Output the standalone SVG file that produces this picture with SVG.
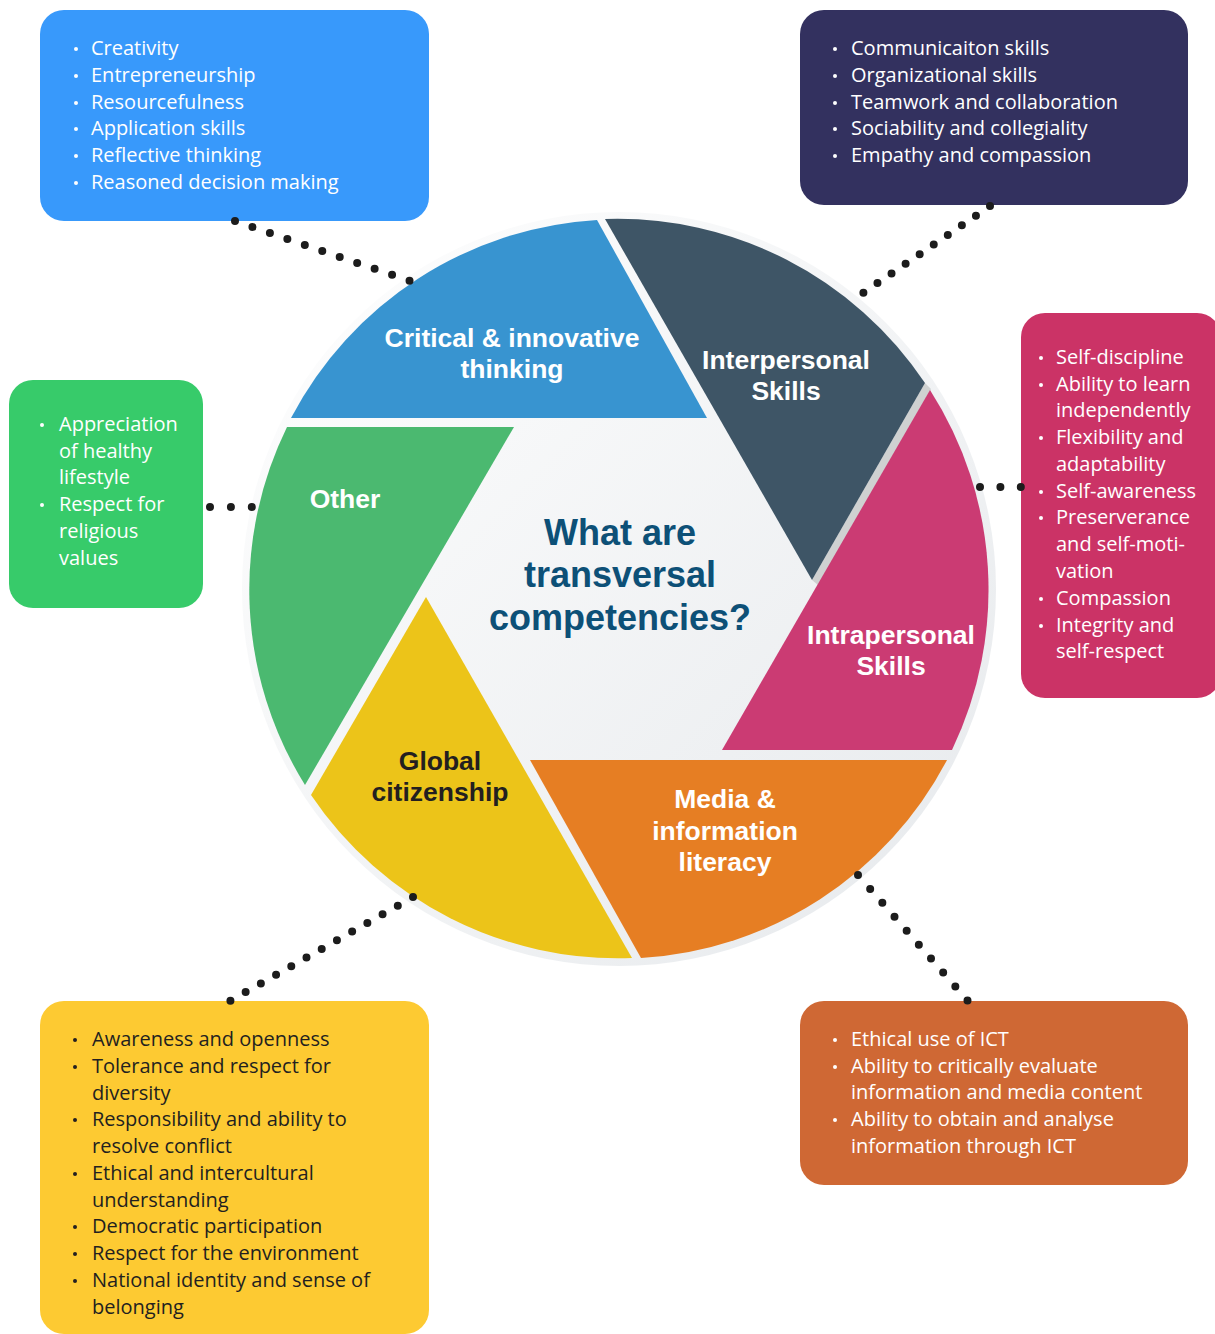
<svg xmlns="http://www.w3.org/2000/svg" width="1215" height="1334" viewBox="0 0 1215 1334">
<defs>
<linearGradient id="bg" x1="0" y1="0" x2="1" y2="1">
<stop offset="0" stop-color="#ffffff"/>
<stop offset="1" stop-color="#e6e9ec"/>
</linearGradient>
<style>
.box text{font-family:"Open Sans","Noto Sans",sans-serif;font-size:20px;fill:#ffffff}
.box circle{fill:#ffffff}
.dark text{fill:#231f20}
.dark circle{fill:#231f20}
.lbl{font-family:"Liberation Sans","Arial",sans-serif;font-weight:700;font-size:26.5px;fill:#ffffff;text-anchor:middle}
.lbl.ink{fill:#231f20}
.title{font-family:"Liberation Sans","Arial",sans-serif;font-weight:700;font-size:36px;fill:#0d5077;text-anchor:middle}
.dots{fill:none;stroke:#1c1c1c;stroke-width:8;stroke-linecap:round}
</style>
</defs>
<rect width="1215" height="1334" fill="#ffffff"/>

<g id="wheel">
<circle cx="619" cy="589" r="377" fill="url(#bg)"/>
<polygon points="812,580 925,383 931,389 818,585" fill="#cfd1d1"/>
<g id="blade-critical">
<path d="M707,418 L597,220 A370,370 0 0 0 291,418 Z" fill="#3894d0"/>
<text class="lbl" x="512" y="347">Critical &amp; innovative</text>
<text class="lbl" x="512" y="378">thinking</text>
</g>
<g id="blade-interpersonal">
<path d="M812,580 L925,383 A370,370 0 0 0 605,219 Z" fill="#3e5566"/>
<text class="lbl" x="786" y="369">Interpersonal</text>
<text class="lbl" x="786" y="400">Skills</text>
</g>
<g id="blade-intrapersonal">
<path d="M722,750 L952,750 A370,370 0 0 0 930,390 Z" fill="#cb3b73"/>
<text class="lbl" x="891" y="644">Intrapersonal</text>
<text class="lbl" x="891" y="675">Skills</text>
</g>
<g id="blade-media">
<path d="M530,760 L641,958 A370,370 0 0 0 947,760 Z" fill="#e67e23"/>
<text class="lbl" x="725" y="808">Media &amp;</text>
<text class="lbl" x="725" y="840">information</text>
<text class="lbl" x="725" y="871">literacy</text>
</g>
<g id="blade-global">
<path d="M426,597 L311,795 A370,370 0 0 0 632,958 Z" fill="#ecc419"/>
<text class="lbl ink" x="440" y="770">Global</text>
<text class="lbl ink" x="440" y="801">citizenship</text>
</g>
<g id="blade-other">
<path d="M514,427 L287,427 A370,370 0 0 0 305,785 Z" fill="#4bb970"/>
<text class="lbl" x="345" y="508">Other</text>
</g>
<g id="center-title">
<text class="title" x="620" y="545">What are</text>
<text class="title" x="620" y="587">transversal</text>
<text class="title" x="620" y="630">competencies?</text>
</g>
</g>

<g id="box-critical" class="box">
<rect x="40" y="10" width="389" height="211" rx="24" fill="#3899fb"/>
<circle cx="76" cy="49" r="2"/><text x="91" y="55">Creativity</text>
<circle cx="76" cy="76" r="2"/><text x="91" y="82">Entrepreneurship</text>
<circle cx="76" cy="103" r="2"/><text x="91" y="109">Resourcefulness</text>
<circle cx="76" cy="129" r="2"/><text x="91" y="135">Application skills</text>
<circle cx="76" cy="156" r="2"/><text x="91" y="162">Reflective thinking</text>
<circle cx="76" cy="183" r="2"/><text x="91" y="189">Reasoned decision making</text>
</g>

<g id="box-interpersonal" class="box">
<rect x="800" y="10" width="388" height="195" rx="24" fill="#33315f"/>
<circle cx="835" cy="49" r="2"/><text x="851" y="55">Communicaiton skills</text>
<circle cx="835" cy="76" r="2"/><text x="851" y="82">Organizational skills</text>
<circle cx="835" cy="103" r="2"/><text x="851" y="109">Teamwork and collaboration</text>
<circle cx="835" cy="129" r="2"/><text x="851" y="135">Sociability and collegiality</text>
<circle cx="835" cy="156" r="2"/><text x="851" y="162">Empathy and compassion</text>
</g>

<g id="box-intrapersonal" class="box">
<rect x="1021" y="313" width="200" height="385" rx="24" fill="#cb3366"/>
<circle cx="1041" cy="358" r="2"/><text x="1056" y="364">Self-discipline</text>
<circle cx="1041" cy="385" r="2"/><text x="1056" y="391">Ability to learn</text>
<text x="1056" y="417">independently</text>
<circle cx="1041" cy="438" r="2"/><text x="1056" y="444">Flexibility and</text>
<text x="1056" y="471">adaptability</text>
<circle cx="1041" cy="492" r="2"/><text x="1056" y="498">Self-awareness</text>
<circle cx="1041" cy="518" r="2"/><text x="1056" y="524">Preserverance</text>
<text x="1056" y="551">and self-moti-</text>
<text x="1056" y="578">vation</text>
<circle cx="1041" cy="599" r="2"/><text x="1056" y="605">Compassion</text>
<circle cx="1041" cy="626" r="2"/><text x="1056" y="632">Integrity and</text>
<text x="1056" y="658">self-respect</text>
</g>

<g id="box-other" class="box">
<rect x="9" y="380" width="194" height="228" rx="24" fill="#37cb6a"/>
<circle cx="42" cy="425" r="2"/><text x="59" y="431">Appreciation</text>
<text x="59" y="458">of healthy</text>
<text x="59" y="484">lifestyle</text>
<circle cx="42" cy="505" r="2"/><text x="59" y="511">Respect for</text>
<text x="59" y="538">religious</text>
<text x="59" y="565">values</text>
</g>

<g id="box-global" class="box dark">
<rect x="40" y="1001" width="389" height="333" rx="24" fill="#fdca32"/>
<circle cx="75" cy="1040" r="2"/><text x="92" y="1046">Awareness and openness</text>
<circle cx="75" cy="1067" r="2"/><text x="92" y="1073">Tolerance and respect for</text>
<text x="92" y="1100">diversity</text>
<circle cx="75" cy="1120" r="2"/><text x="92" y="1126">Responsibility and ability to</text>
<text x="92" y="1153">resolve conflict</text>
<circle cx="75" cy="1174" r="2"/><text x="92" y="1180">Ethical and intercultural</text>
<text x="92" y="1207">understanding</text>
<circle cx="75" cy="1227" r="2"/><text x="92" y="1233">Democratic participation</text>
<circle cx="75" cy="1254" r="2"/><text x="92" y="1260">Respect for the environment</text>
<circle cx="75" cy="1281" r="2"/><text x="92" y="1287">National identity and sense of</text>
<text x="92" y="1314">belonging</text>
</g>

<g id="box-media" class="box">
<rect x="800" y="1001" width="388" height="184" rx="24" fill="#cf6834"/>
<circle cx="835" cy="1040" r="2"/><text x="851" y="1046">Ethical use of ICT</text>
<circle cx="835" cy="1067" r="2"/><text x="851" y="1073">Ability to critically evaluate</text>
<text x="851" y="1099">information and media content</text>
<circle cx="835" cy="1120" r="2"/><text x="851" y="1126">Ability to obtain and analyse</text>
<text x="851" y="1153">information through ICT</text>
</g>

<g id="connectors">
<path class="dots" d="M235,221 L410,281" stroke-dasharray="0 18.45"/>
<path class="dots" d="M990,206 L863,293" stroke-dasharray="0 17.05"/>
<path class="dots" d="M980,487 L1021,487" stroke-dasharray="0 20.4"/>
<path class="dots" d="M210,507 L252,507" stroke-dasharray="0 20.9"/>
<path class="dots" d="M413,897 L230,1001" stroke-dasharray="0 17.5"/>
<path class="dots" d="M858,875 L968,1001" stroke-dasharray="0 18.5"/>
</g>
</svg>
